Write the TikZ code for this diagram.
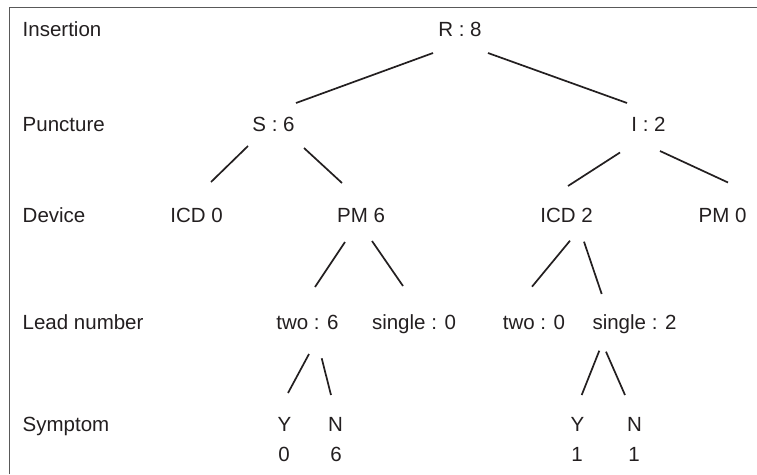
\documentclass[tikz,border=0pt]{standalone}
\usepackage{fontspec}
\setmainfont{Liberation Sans}
\usetikzlibrary{calc}
\definecolor{ink}{HTML}{231F20}
\tikzset{
  lab/.style={anchor=base, inner sep=0pt, text=ink, font=\fontsize{20.5}{24}\selectfont},
  rowlab/.style={lab, anchor=base west},
  branch/.style={draw=ink, line width=1.7pt},
  frame/.style={draw=black!65, line width=1pt}
}
\begin{document}
\begin{tikzpicture}[x=1pt,y=-1pt]
\useasboundingbox (0,0) rectangle (757,474);
\fill[white] (0,0) rectangle (757,474);
\draw[frame] (9,474) -- (9,7.5) -- (757,7.5);

% row labels
\node[rowlab] (Lins) at (22.5,36) {Insertion};
\node[rowlab] (Lpun) at (22.5,131.5) {Puncture};
\node[rowlab] (Ldev) at (22.5,222) {Device};
\node[rowlab] (Llead) at (22.5,329) {Lead number};
\node[rowlab] (Lsym) at (22.5,431) {Symptom};

% tree nodes
\node[lab] (R) at (460,36) {R : 8};
\node[lab] (S) at (273.5,131.5) {S : 6};
\node[lab] (I) at (648.5,131.5) {I : 2};
\node[lab] (ICDa) at (196.5,222) {ICD 0};
\node[lab] (PMa) at (361,222) {PM 6};
\node[lab] (ICDb) at (566.5,222) {ICD 2};
\node[lab] (PMb) at (722.5,222) {PM 0};
\node[lab] (twoa) at (307.5,329) {two : 6};
\node[lab] (singa) at (414,329) {single : 0};
\node[lab] (twob) at (534,329) {two : 0};
\node[lab] (singb) at (634.5,329) {single : 2};
\node[lab] (Ya) at (284.5,431) {Y};
\node[lab] (Na) at (335.5,431) {N};
\node[lab] (Yb) at (577.5,431) {Y};
\node[lab] (Nb) at (634.5,431) {N};
\node[lab] (va) at (284,461) {0};
\node[lab] (vb) at (336,461) {6};
\node[lab] (vc) at (577,461) {1};
\node[lab] (vd) at (634,461) {1};

% connectors
\draw[branch] ($(R.base)+(-27,17)$) -- ($(S.base)+(22.5,-28.5)$);
\draw[branch] ($(R.base)+(28,17)$) -- ($(I.base)+(-21.5,-28.5)$);
\draw[branch] ($(S.base)+(-25.5,14.5)$) -- ($(ICDa.base)+(14.5,-40)$);
\draw[branch] ($(S.base)+(30.5,16.5)$) -- ($(PMa.base)+(-19,-39)$);
\draw[branch] ($(I.base)+(-28.5,21)$) -- ($(ICDb.base)+(1.5,-36)$);
\draw[branch] ($(I.base)+(11.5,19.5)$) -- ($(PMb.base)+(5.5,-39.5)$);
\draw[branch] ($(PMa.base)+(-16,20)$) -- ($(twoa.base)+(7.5,-42)$);
\draw[branch] ($(PMa.base)+(11,19)$) -- ($(singa.base)+(-11,-43)$);
\draw[branch] ($(ICDb.base)+(3.5,18.7)$) -- ($(twob.base)+(-2,-42.3)$);
\draw[branch] ($(ICDb.base)+(17.5,19.7)$) -- ($(singb.base)+(-32.8,-35)$);
\draw[branch] ($(twoa.base)+(1.5,25)$) -- ($(Ya.base)+(3.5,-38)$);
\draw[branch] ($(twoa.base)+(14.2,29.3)$) -- ($(Na.base)+(-4.5,-36)$);
\draw[branch] ($(singb.base)+(-35.2,21.7)$) -- ($(Yb.base)+(4.2,-36)$);
\draw[branch] ($(singb.base)+(-28.5,22.7)$) -- ($(Nb.base)+(-9.5,-36)$);
\end{tikzpicture}
\end{document}
